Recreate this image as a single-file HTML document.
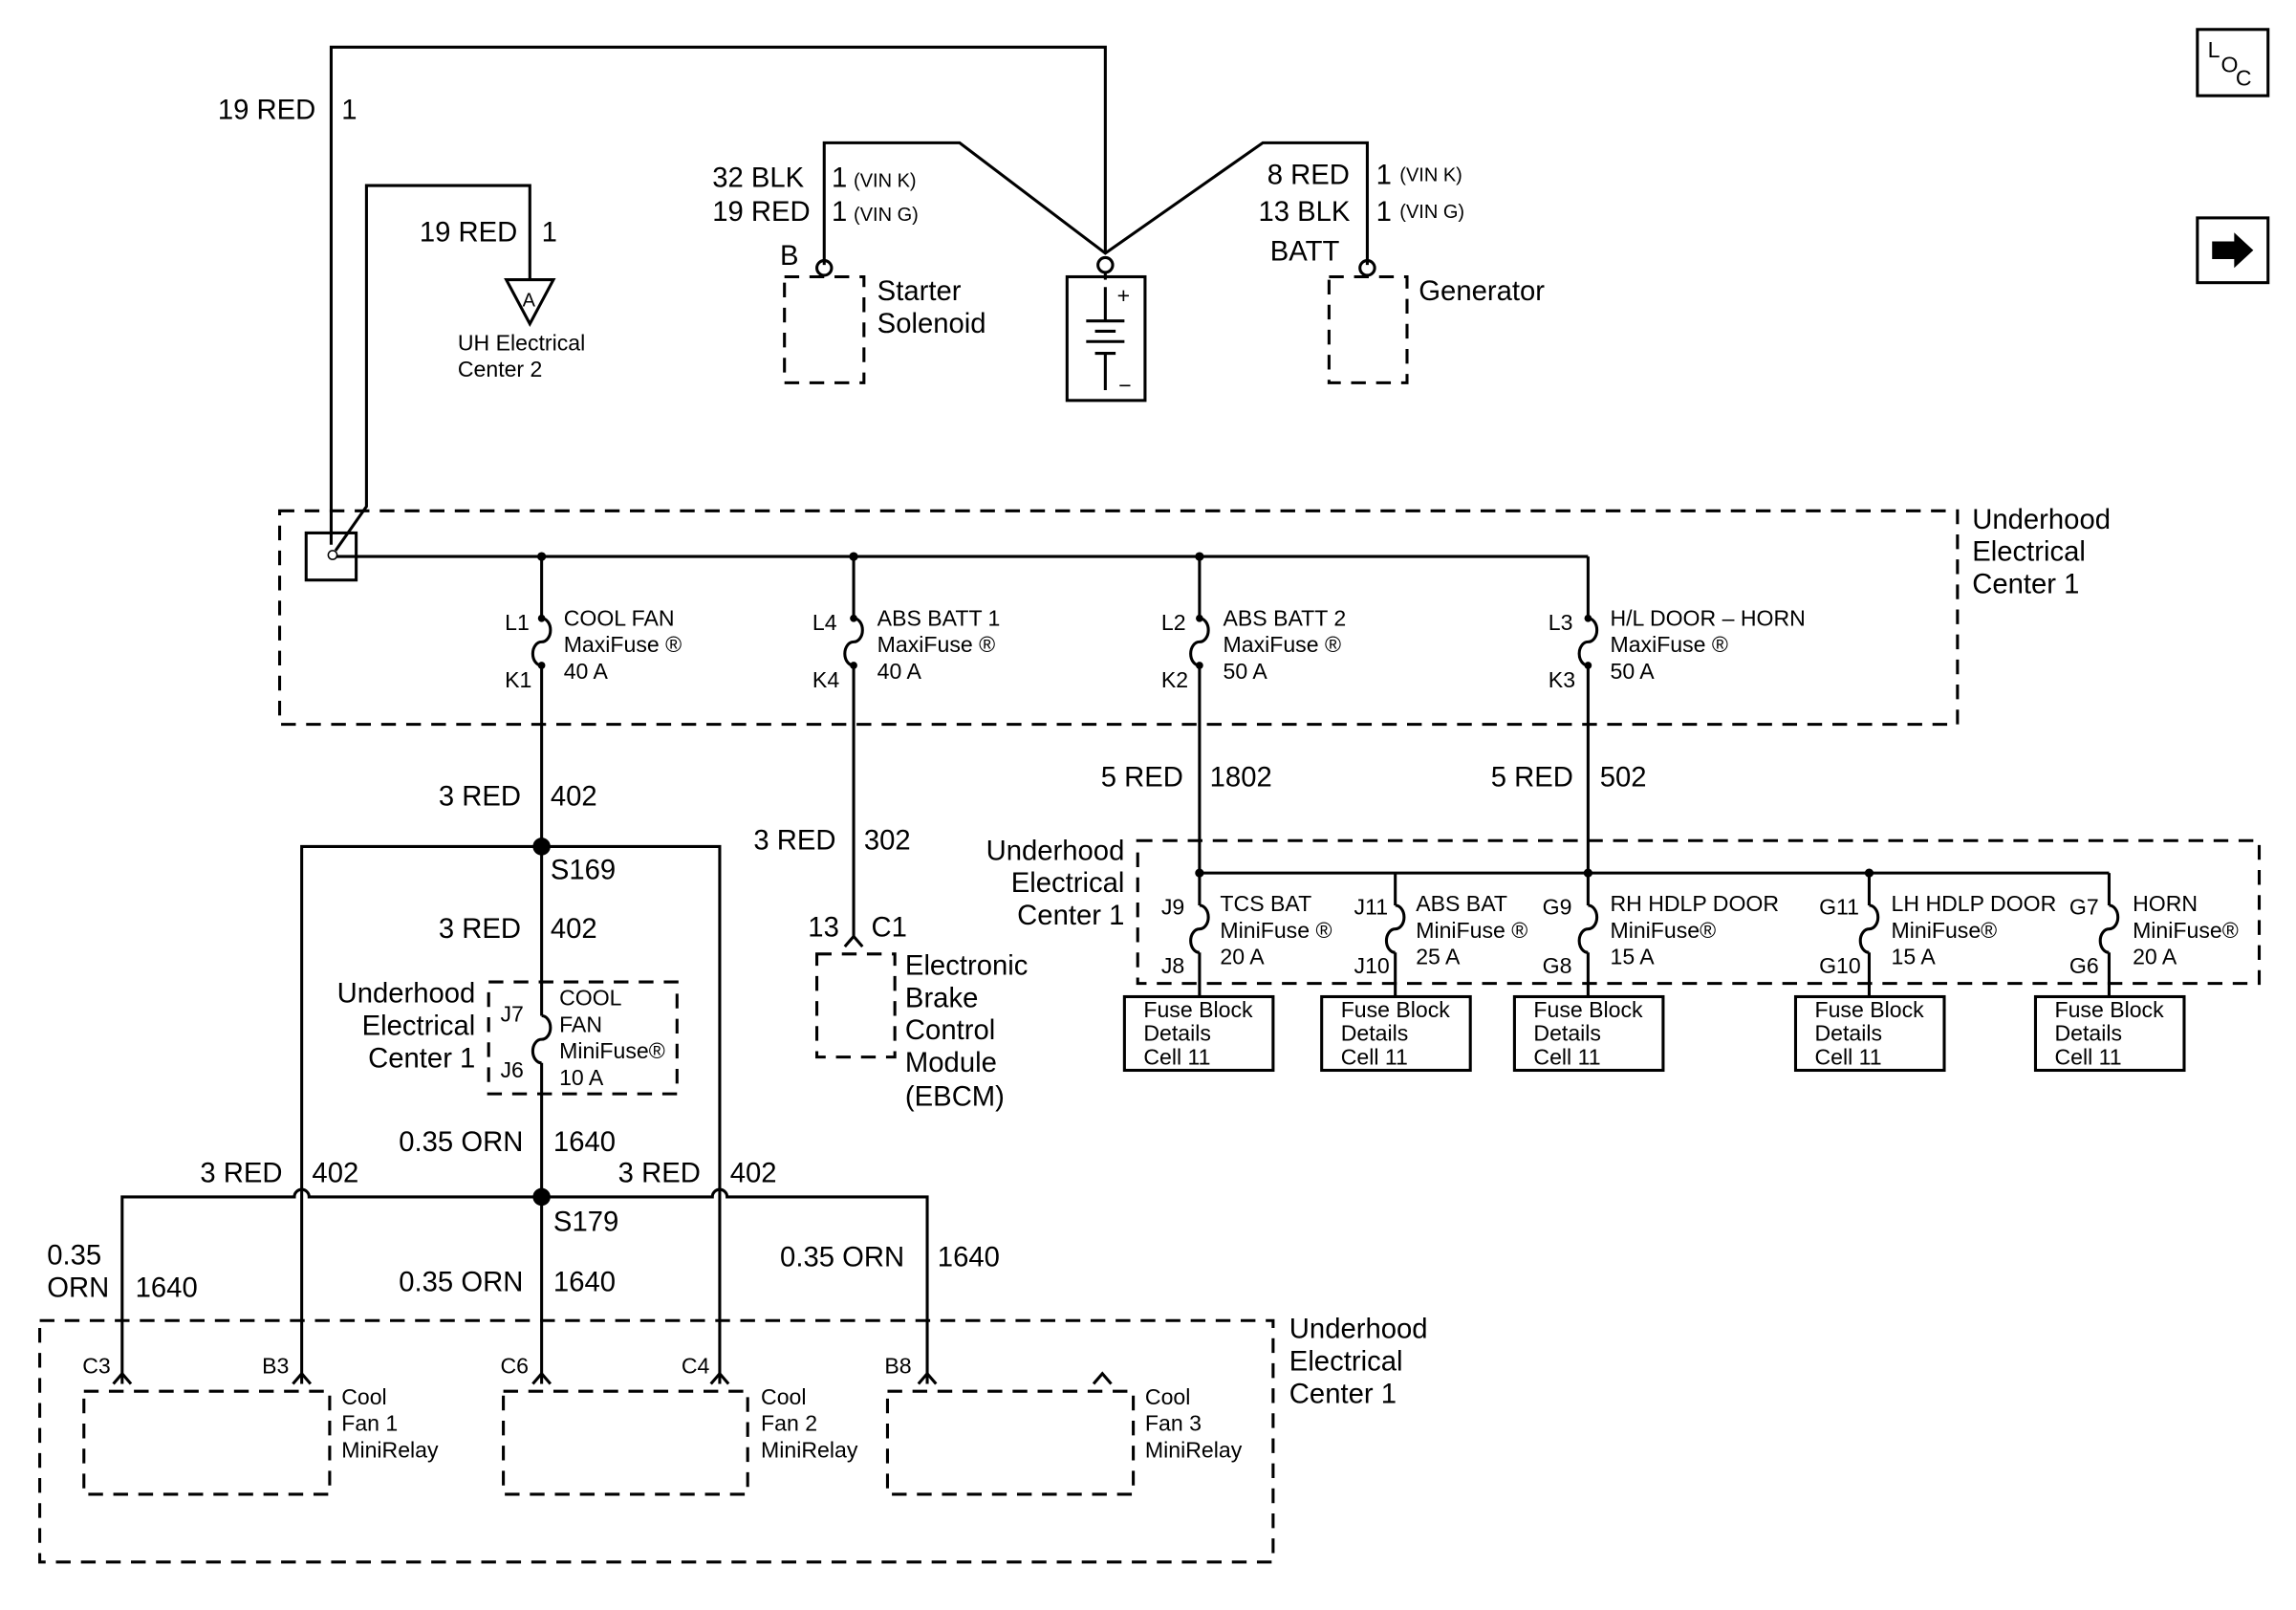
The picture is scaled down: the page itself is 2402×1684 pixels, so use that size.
<!DOCTYPE html>
<html><head><meta charset="utf-8"><style>
html,body{margin:0;padding:0;background:#fff;}
svg{display:block}
text{font-family:"Liberation Sans",sans-serif;fill:#000}
.b{font-size:19px}
.s{font-size:13px}
.m{font-size:15px}
</style></head><body>
<svg width="2402" height="1684" viewBox="0 0 1560 1093.6" preserveAspectRatio="none" xmlns="http://www.w3.org/2000/svg">
<g fill="none" stroke="#000" stroke-width="2">
<polyline points="225,370 225,32 751,32 751,172"/>
<polyline points="228,374 249,344 249,126 360,126 360,190"/>
<polygon points="344,190 376,190 360,220"/>
<rect x="208" y="362" width="34" height="32"/>
<polyline points="560,180 560,97 652,97 751,172 858,97 929,97 929,180"/>
<circle cx="560" cy="182" r="5"/><circle cx="929" cy="182" r="5"/><circle cx="751" cy="180" r="5"/>
<line x1="751" y1="185" x2="751" y2="190"/>
<rect x="725" y="188" width="53" height="84"/>
<line x1="751" y1="195" x2="751" y2="218"/><line x1="751" y1="240" x2="751" y2="265"/>
<line x1="738" y1="218" x2="764" y2="218"/><line x1="744" y1="225" x2="758" y2="225"/>
<line x1="738" y1="232" x2="764" y2="232"/><line x1="744" y1="240" x2="758" y2="240"/>
<g stroke-dasharray="10,7">
<rect x="533" y="188" width="54" height="72"/>
<rect x="903" y="188" width="53" height="72"/>
<rect x="190" y="347" width="1140" height="145"/>
<rect x="773" y="571" width="762" height="97"/>
<rect x="332" y="667" width="128" height="76"/>
<rect x="555" y="648" width="53" height="70"/>
<rect x="27" y="897" width="838" height="164"/>
<rect x="57" y="945" width="167" height="70"/>
<rect x="342" y="945" width="166" height="70"/>
<rect x="603" y="945" width="167" height="70"/>
</g>
<line x1="228" y1="378" x2="1079" y2="378"/>
<polyline points="368,378 368,420"/><polyline points="368,452 368,575"/>
<polyline points="580,378 580,420"/><polyline points="580,452 580,636"/>
<polyline points="815,378 815,420"/><polyline points="815,452 815,593"/>
<polyline points="1079,378 1079,420"/><polyline points="1079,452 1079,593"/>
<path d="M368,420 a6,8 0 0 1 0,16 a6,8 0 0 0 0,16"/>
<path d="M580,420 a6,8 0 0 1 0,16 a6,8 0 0 0 0,16"/>
<path d="M815,420 a6,8 0 0 1 0,16 a6,8 0 0 0 0,16"/>
<path d="M1079,420 a6,8 0 0 1 0,16 a6,8 0 0 0 0,16"/>
<polyline points="574,643 580,636 586,643"/>
<line x1="815" y1="593" x2="1433" y2="593"/>
<g>
<line x1="815" y1="593" x2="815" y2="615"/><path d="M815,615 a6,8 0 0 1 0,16 a6,8 0 0 0 0,16"/><line x1="815" y1="647" x2="815" y2="677"/>
<line x1="948" y1="593" x2="948" y2="615"/><path d="M948,615 a6,8 0 0 1 0,16 a6,8 0 0 0 0,16"/><line x1="948" y1="647" x2="948" y2="677"/>
<line x1="1079" y1="593" x2="1079" y2="615"/><path d="M1079,615 a6,8 0 0 1 0,16 a6,8 0 0 0 0,16"/><line x1="1079" y1="647" x2="1079" y2="677"/>
<line x1="1270" y1="593" x2="1270" y2="615"/><path d="M1270,615 a6,8 0 0 1 0,16 a6,8 0 0 0 0,16"/><line x1="1270" y1="647" x2="1270" y2="677"/>
<line x1="1433" y1="593" x2="1433" y2="615"/><path d="M1433,615 a6,8 0 0 1 0,16 a6,8 0 0 0 0,16"/><line x1="1433" y1="647" x2="1433" y2="677"/>
</g>
<rect x="764" y="677" width="101" height="50"/>
<rect x="898" y="677" width="101" height="50"/>
<rect x="1029" y="677" width="101" height="50"/>
<rect x="1220" y="677" width="101" height="50"/>
<rect x="1383" y="677" width="101" height="50"/>
<polyline points="205,940 205,575 489,575 489,940"/>
<line x1="368" y1="575" x2="368" y2="690"/>
<path d="M368,690 a6,8 0 0 1 0,16 a6,8 0 0 0 0,16"/>
<line x1="368" y1="722" x2="368" y2="940"/>
<path d="M83,940 L83,813 L200,813 a5,5 0 0 1 10,0 L484,813 a5,5 0 0 1 10,0 L630,813 L630,940"/>
<polyline points="77,940 83,933 89,940"/><polyline points="199,940 205,933 211,940"/>
<polyline points="362,940 368,933 374,940"/><polyline points="483,940 489,933 495,940"/>
<polyline points="624,940 630,933 636,940"/><polyline points="743,940 749,933 755,940"/>
<rect x="1493" y="20" width="48" height="45"/>
<rect x="1493" y="148" width="48" height="44"/>
</g>
<g fill="#000">
<circle cx="368" cy="378" r="3"/><circle cx="580" cy="378" r="3"/><circle cx="815" cy="378" r="3"/>
<circle cx="368" cy="420" r="2.5"/><circle cx="368" cy="452" r="2.5"/>
<circle cx="580" cy="420" r="2.5"/><circle cx="580" cy="452" r="2.5"/>
<circle cx="815" cy="420" r="2.5"/><circle cx="815" cy="452" r="2.5"/>
<circle cx="1079" cy="420" r="2.5"/><circle cx="1079" cy="452" r="2.5"/>
<circle cx="815" cy="593" r="3"/><circle cx="1079" cy="593" r="3"/><circle cx="1270" cy="593" r="3"/>
<circle cx="368" cy="575" r="6"/><circle cx="368" cy="813" r="6"/>
<polygon points="1503,164 1518,164 1518,158 1531,170 1518,182 1518,176 1503,176"/>
</g>
<circle cx="226" cy="377" r="3" fill="#fff" stroke="#000"/>
<g>
<text class="b" x="148" y="81">19 RED</text><text class="b" x="232" y="81">1</text>
<text class="b" x="285" y="164">19 RED</text><text class="b" x="368" y="164">1</text>
<text class="s" x="355" y="208">A</text>
<text class="m" x="311" y="238">UH Electrical</text><text class="m" x="311" y="256">Center 2</text>
<text class="b" x="484" y="127">32 BLK</text><text class="b" x="565" y="127">1</text><text class="s" x="580" y="127">(VIN K)</text>
<text class="b" x="484" y="150">19 RED</text><text class="b" x="565" y="150">1</text><text class="s" x="580" y="150">(VIN G)</text>
<text class="b" x="530" y="180">B</text>
<text class="b" x="596" y="204">Starter</text><text class="b" x="596" y="226">Solenoid</text>
<text class="b" x="861" y="125">8 RED</text><text class="b" x="935" y="125">1</text><text class="s" x="951" y="123">(VIN K)</text>
<text class="b" x="855" y="150">13 BLK</text><text class="b" x="935" y="150">1</text><text class="s" x="951" y="148">(VIN G)</text>
<text class="b" x="863" y="177">BATT</text>
<text class="b" x="964" y="204">Generator</text>
<text class="m" x="759" y="206">+</text><text class="m" x="760" y="267">−</text>
<text class="b" x="1340" y="359">Underhood</text><text class="b" x="1340" y="381">Electrical</text><text class="b" x="1340" y="403">Center 1</text>
<text class="m" x="343" y="428">L1</text><text class="m" x="343" y="467">K1</text>
<text class="m" x="383" y="425">COOL FAN</text><text class="m" x="383" y="443">MaxiFuse ®</text><text class="m" x="383" y="461">40 A</text>
<text class="m" x="552" y="428">L4</text><text class="m" x="552" y="467">K4</text>
<text class="m" x="596" y="425">ABS BATT 1</text><text class="m" x="596" y="443">MaxiFuse ®</text><text class="m" x="596" y="461">40 A</text>
<text class="m" x="789" y="428">L2</text><text class="m" x="789" y="467">K2</text>
<text class="m" x="831" y="425">ABS BATT 2</text><text class="m" x="831" y="443">MaxiFuse ®</text><text class="m" x="831" y="461">50 A</text>
<text class="m" x="1052" y="428">L3</text><text class="m" x="1052" y="467">K3</text>
<text class="m" x="1094" y="425">H/L DOOR – HORN</text><text class="m" x="1094" y="443">MaxiFuse ®</text><text class="m" x="1094" y="461">50 A</text>
<text class="b" x="298" y="547">3 RED</text><text class="b" x="374" y="547">402</text>
<text class="b" x="512" y="577">3 RED</text><text class="b" x="587" y="577">302</text>
<text class="b" x="748" y="534">5 RED</text><text class="b" x="822" y="534">1802</text>
<text class="b" x="1013" y="534">5 RED</text><text class="b" x="1087" y="534">502</text>
<text class="b" x="374" y="597">S169</text>
<text class="b" x="298" y="637">3 RED</text><text class="b" x="374" y="637">402</text>
<text class="b" x="549" y="636">13</text><text class="b" x="592" y="636">C1</text>
<text class="b" x="615" y="662">Electronic</text><text class="b" x="615" y="684">Brake</text><text class="b" x="615" y="706">Control</text><text class="b" x="615" y="728">Module</text><text class="b" x="615" y="751">(EBCM)</text>
<text class="b" x="764" y="584" text-anchor="end">Underhood</text><text class="b" x="764" y="606" text-anchor="end">Electrical</text><text class="b" x="764" y="628" text-anchor="end">Center 1</text>
<text class="b" x="323" y="681" text-anchor="end">Underhood</text><text class="b" x="323" y="703" text-anchor="end">Electrical</text><text class="b" x="323" y="725" text-anchor="end">Center 1</text>
<text class="m" x="340" y="694">J7</text><text class="m" x="340" y="732">J6</text>
<text class="m" x="380" y="683">COOL</text><text class="m" x="380" y="701">FAN</text><text class="m" x="380" y="719">MiniFuse®</text><text class="m" x="380" y="737">10 A</text>
<text class="m" x="789" y="621">J9</text><text class="m" x="789" y="661">J8</text>
<text class="m" x="829" y="619">TCS BAT</text><text class="m" x="829" y="637">MiniFuse ®</text><text class="m" x="829" y="655">20 A</text>
<text class="m" x="920" y="621">J11</text><text class="m" x="920" y="661">J10</text>
<text class="m" x="962" y="619">ABS BAT</text><text class="m" x="962" y="637">MiniFuse ®</text><text class="m" x="962" y="655">25 A</text>
<text class="m" x="1048" y="621">G9</text><text class="m" x="1048" y="661">G8</text>
<text class="m" x="1094" y="619">RH HDLP DOOR</text><text class="m" x="1094" y="637">MiniFuse®</text><text class="m" x="1094" y="655">15 A</text>
<text class="m" x="1236" y="621">G11</text><text class="m" x="1236" y="661">G10</text>
<text class="m" x="1285" y="619">LH HDLP DOOR</text><text class="m" x="1285" y="637">MiniFuse®</text><text class="m" x="1285" y="655">15 A</text>
<text class="m" x="1406" y="621">G7</text><text class="m" x="1406" y="661">G6</text>
<text class="m" x="1449" y="619">HORN</text><text class="m" x="1449" y="637">MiniFuse®</text><text class="m" x="1449" y="655">20 A</text>
<text class="m" x="777" y="691">Fuse Block</text><text class="m" x="777" y="707">Details</text><text class="m" x="777" y="723">Cell 11</text>
<text class="m" x="911" y="691">Fuse Block</text><text class="m" x="911" y="707">Details</text><text class="m" x="911" y="723">Cell 11</text>
<text class="m" x="1042" y="691">Fuse Block</text><text class="m" x="1042" y="707">Details</text><text class="m" x="1042" y="723">Cell 11</text>
<text class="m" x="1233" y="691">Fuse Block</text><text class="m" x="1233" y="707">Details</text><text class="m" x="1233" y="723">Cell 11</text>
<text class="m" x="1396" y="691">Fuse Block</text><text class="m" x="1396" y="707">Details</text><text class="m" x="1396" y="723">Cell 11</text>
<text class="b" x="271" y="782">0.35 ORN</text><text class="b" x="376" y="782">1640</text>
<text class="b" x="136" y="803">3 RED</text><text class="b" x="212" y="803">402</text>
<text class="b" x="420" y="803">3 RED</text><text class="b" x="496" y="803">402</text>
<text class="b" x="376" y="836">S179</text>
<text class="b" x="32" y="859">0.35</text><text class="b" x="32" y="881">ORN</text><text class="b" x="92" y="881">1640</text>
<text class="b" x="271" y="877">0.35 ORN</text><text class="b" x="376" y="877">1640</text>
<text class="b" x="530" y="860">0.35 ORN</text><text class="b" x="637" y="860">1640</text>
<text class="b" x="876" y="909">Underhood</text><text class="b" x="876" y="931">Electrical</text><text class="b" x="876" y="953">Center 1</text>
<text class="m" x="56" y="933">C3</text><text class="m" x="178" y="933">B3</text>
<text class="m" x="340" y="933">C6</text><text class="m" x="463" y="933">C4</text>
<text class="m" x="601" y="933">B8</text>
<text class="m" x="232" y="954">Cool</text><text class="m" x="232" y="972">Fan 1</text><text class="m" x="232" y="990">MiniRelay</text>
<text class="m" x="517" y="954">Cool</text><text class="m" x="517" y="972">Fan 2</text><text class="m" x="517" y="990">MiniRelay</text>
<text class="m" x="778" y="954">Cool</text><text class="m" x="778" y="972">Fan 3</text><text class="m" x="778" y="990">MiniRelay</text>
<text class="m" x="1500" y="39">L</text><text class="m" x="1509" y="49">O</text><text class="m" x="1519" y="58">C</text>
</g>
</svg>
</body></html>
